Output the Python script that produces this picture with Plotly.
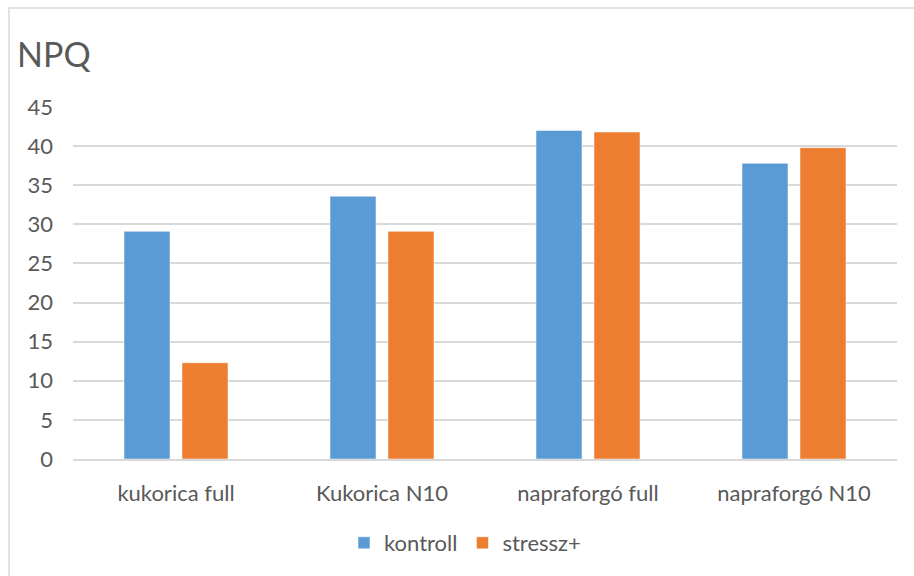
import plotly.graph_objects as go

categories = ["kukorica full", "Kukorica N10", "napraforgó full", "napraforgó N10"]
kontroll = [29.1, 33.6, 42.0, 37.8]
stressz = [12.3, 29.1, 41.8, 39.8]
series_names = ["kontroll", "stressz+"]
y_ticks = [0, 5, 10, 15, 20, 25, 30, 35, 40, 45]

W, H = 914, 576
L, R, T, B = 73, 17, 107, 117
pw = W - L - R
ph = H - T - B

font_family = "Lato, Open Sans, sans-serif"
txt = "#595959"

fig = go.Figure()
fig.add_trace(go.Bar(x=categories, y=kontroll, name=series_names[0],
                     marker=dict(color="#5B9BD5", line=dict(color="white", width=0.5))))
fig.add_trace(go.Bar(x=categories, y=stressz, name=series_names[1],
                     marker=dict(color="#ED7D31", line=dict(color="white", width=0.5))))

fig.update_layout(
    width=W, height=H,
    margin=dict(l=L, r=R, t=T, b=B, autoexpand=False),
    paper_bgcolor="white", plot_bgcolor="white",
    barmode="group", bargap=0.437, bargroupgap=0.207,
    font=dict(family=font_family, color=txt, size=22),
    title=dict(text="NPQ", x=17 / W, xref="container", xanchor="left",
               y=1 - 55 / H, yref="container", yanchor="middle",
               font=dict(size=34, color=txt, family=font_family)),
    showlegend=True,
    legend=dict(orientation="h", xref="container", yref="container",
                x=465 / W, xanchor="center", y=1 - 543 / H, yanchor="middle",
                font=dict(size=22, color=txt), itemwidth=30, traceorder="normal"),
    xaxis=dict(showgrid=False, ticks="", showline=True, linecolor="#D9D9D9", linewidth=1.5,
               tickfont=dict(size=22, color=txt), ticklabelstandoff=14),
    yaxis=dict(range=[0, 45], tickvals=y_ticks, showgrid=True, gridcolor="#D9D9D9",
               gridwidth=1.5, zeroline=False, showline=False, ticks="",
               tickfont=dict(size=22, color=txt), ticklabelstandoff=19),
    shapes=[dict(type="rect", xref="paper", yref="paper",
                 x0=(9 - L) / pw, x1=1.2, y0=-0.6, y1=(H - B - 8) / ph,
                 line=dict(color="#D9D9D9", width=1.5), fillcolor="rgba(0,0,0,0)",
                 layer="below")],
)

fig.write_html("out.html")
